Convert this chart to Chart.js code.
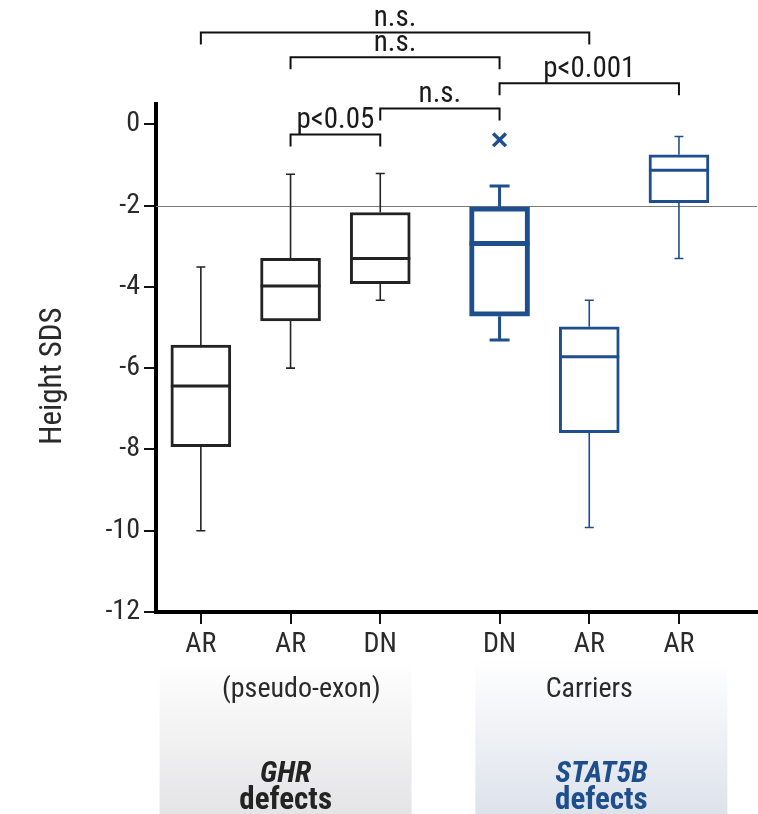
<!DOCTYPE html>
<html><head><meta charset="utf-8"><title>Height SDS</title>
<script src="https://cdn.jsdelivr.net/npm/chart.js@4.4.1/dist/chart.umd.min.js"></script>
<style>html,body{margin:0;padding:0;background:#fff;overflow:hidden}#wrap{position:relative;width:758px;height:814px}canvas{display:block}</style>
</head><body><div id="wrap"><canvas id="chart" width="758" height="814"></canvas></div>
<script>
// ---------------- data ----------------
const categories   = ['AR', 'AR', 'DN', 'DN', 'AR', 'AR'];
const defectGroups = ['GHR', 'GHR', 'GHR', 'STAT5B', 'STAT5B', 'STAT5B'];
const whiskerLow   = [-10.0, -6.0, -4.33, -5.31, -9.92, -3.30];
const quartile1    = [-7.93, -4.84, -3.92, -4.72, -7.59, -1.93];
const medians      = [-6.44, -3.98, -3.30, -2.93, -5.72, -1.13];
const quartile3    = [-5.43, -3.30, -2.17, -2.03, -4.98, -0.75];
const whiskerHigh  = [-3.51, -1.23, -1.21, -1.52, -4.33, -0.30];
const outlierValues = [null, null, null, -0.38, null, null];
const yTickValues  = [0, -2, -4, -6, -8, -10, -12];
const referenceValue = -2;
const comparisonPairs  = [[0, 4], [1, 3], [3, 5], [2, 3], [1, 2]];
const comparisonLabels = ['n.s.', 'n.s.', 'p<0.001', 'n.s.', 'p<0.05'];
const subLabels      = ['(pseudo-exon)', 'Carriers'];
const groupTitles    = ['GHR', 'STAT5B'];
const groupSubtitles = ['defects', 'defects'];

// ---------------- layout (axis units) ----------------
const X_POS = [1, 2, 3, 4.33, 5.33, 6.33];
const BRACKET_LEVELS = [2.26, 1.65, 1.01, 0.39, -0.25];
const SUBLABEL_X = [2.12, 5.33];
const GROUP_SPANS = [[0.54, 3.35], [4.06, 6.87]];

// ---------------- style ----------------
const INK = '#232323', BLUE = '#1f4e8d';
const boxColors = defectGroups.map(g => g === 'GHR' ? INK : BLUE);
const boxLine = [3, 3, 3, 5, 3, 3];
const whiskerLine = [1.6, 1.6, 1.6, 3, 1.6, 1.6];
const capHalf = [4.5, 4.5, 4.5, 10, 4.5, 4.5];
const groupColors = [INK, BLUE];
const groupShade = ['#e4e4e6', '#dde2eb'];

// font detection: prefer a condensed sans
function fontAvailable(name) {
  const c = document.createElement('canvas').getContext('2d');
  const s = 'AR DN Height SDS -12 pseudo-exon';
  for (const base of ['monospace', 'serif']) {
    c.font = '40px ' + base; const w0 = c.measureText(s).width;
    c.font = '40px "' + name + '", ' + base; const w1 = c.measureText(s).width;
    if (Math.abs(w0 - w1) > 0.5) return true;
  }
  return false;
}
let FAMILY = null, SQUEEZE = 1;
for (const f of ['Roboto Condensed', 'Liberation Sans Narrow', 'Noto Sans Condensed', 'Open Sans Condensed', 'DejaVu Sans Condensed']) {
  if (fontAvailable(f)) { FAMILY = '"' + f + '"'; break; }
}
if (!FAMILY) { FAMILY = '"Liberation Sans", Arial, sans-serif'; SQUEEZE = 0.84; }

function drawText(ctx, text, x, y, o) {
  ctx.save();
  ctx.translate(x, y);
  if (o.rotate) ctx.rotate(o.rotate);
  ctx.scale(SQUEEZE, 1);
  ctx.font = (o.style || 'normal') + ' ' + (o.weight || 'normal') + ' ' + o.size + 'px ' + FAMILY;
  ctx.fillStyle = o.color || INK;
  ctx.textAlign = o.align || 'center';
  ctx.textBaseline = o.baseline || 'alphabetic';
  ctx.fillText(text, 0, 0);
  ctx.restore();
}

const boxPlugin = {
  id: 'boxExtras',
  beforeDraw(chart) {
    const {ctx, scales: {x}} = chart;
    GROUP_SPANS.forEach((span, k) => {
      const x1 = x.getPixelForValue(span[0]), x2 = x.getPixelForValue(span[1]);
      const g = ctx.createLinearGradient(0, 660, 0, 814);
      g.addColorStop(0, 'rgba(255,255,255,1)');
      g.addColorStop(1, groupShade[k]);
      ctx.save(); ctx.fillStyle = g; ctx.fillRect(x1, 660, x2 - x1, 154); ctx.restore();
    });
  },
  beforeDatasetsDraw(chart) {
    const {ctx, chartArea, scales: {y}} = chart;
    const py = Math.round(y.getPixelForValue(referenceValue)) + 0.5;
    ctx.save();
    ctx.strokeStyle = '#7a7a7a'; ctx.lineWidth = 1.2;
    ctx.beginPath(); ctx.moveTo(chartArea.left, py); ctx.lineTo(chartArea.right, py); ctx.stroke();
    ctx.restore();
  },
  afterDatasetsDraw(chart) {
    const {ctx, scales: {x, y}} = chart;
    ctx.save();
    ctx.lineCap = 'butt';
    categories.forEach((c, i) => {
      const cx = x.getPixelForValue(X_POS[i]);
      const half = 30;
      ctx.strokeStyle = boxColors[i];
      ctx.lineWidth = whiskerLine[i];
      const yq3 = y.getPixelForValue(quartile3[i]), yq1 = y.getPixelForValue(quartile1[i]);
      const yh = y.getPixelForValue(whiskerHigh[i]), yl = y.getPixelForValue(whiskerLow[i]);
      ctx.beginPath();
      ctx.moveTo(cx, yq3); ctx.lineTo(cx, yh);
      ctx.moveTo(cx - capHalf[i], yh); ctx.lineTo(cx + capHalf[i], yh);
      ctx.moveTo(cx, yq1); ctx.lineTo(cx, yl);
      ctx.moveTo(cx - capHalf[i], yl); ctx.lineTo(cx + capHalf[i], yl);
      ctx.stroke();
      ctx.lineWidth = boxLine[i];
      const ym = y.getPixelForValue(medians[i]);
      ctx.beginPath(); ctx.moveTo(cx - half, ym); ctx.lineTo(cx + half, ym); ctx.stroke();
    });
    ctx.restore();
  },
  afterDraw(chart) {
    const {ctx, scales: {x, y}} = chart;
    ctx.save();
    ctx.strokeStyle = '#111'; ctx.lineWidth = 2; ctx.lineJoin = 'miter';
    comparisonPairs.forEach((p, k) => {
      const x1 = x.getPixelForValue(X_POS[p[0]]), x2 = x.getPixelForValue(X_POS[p[1]]);
      const yy = y.getPixelForValue(BRACKET_LEVELS[k]);
      ctx.beginPath();
      ctx.moveTo(x1, yy + 12); ctx.lineTo(x1, yy); ctx.lineTo(x2, yy); ctx.lineTo(x2, yy + 12);
      ctx.stroke();
      drawText(ctx, comparisonLabels[k], (x1 + x2) / 2, yy - 6, {size: 29, color: '#1a1a1a'});
    });
    ctx.restore();
    drawText(ctx, 'Height SDS', 61, 376, {size: 31, rotate: -Math.PI / 2, color: '#2a2a2a'});
    subLabels.forEach((t, k) => {
      drawText(ctx, t, x.getPixelForValue(SUBLABEL_X[k]), 697, {size: 28, color: '#2a2a2a'});
    });
    GROUP_SPANS.forEach((span, k) => {
      const cx = (x.getPixelForValue(span[0]) + x.getPixelForValue(span[1])) / 2;
      drawText(ctx, groupTitles[k], cx, 782, {size: 30, style: 'italic', weight: 'bold', color: groupColors[k]});
      drawText(ctx, groupSubtitles[k], cx, 809, {size: 31, weight: 'bold', color: groupColors[k]});
    });
  }
};

const tickFont = {family: FAMILY, size: 28};
new Chart(document.getElementById('chart'), {
  type: 'bar',
  data: {
    datasets: [{
      type: 'bar',
      label: 'Height SDS (IQR)',
      data: categories.map((c, i) => ({x: X_POS[i], y: [quartile1[i], quartile3[i]]})),
      backgroundColor: '#ffffff',
      borderColor: boxColors,
      borderWidth: boxLine,
      borderSkipped: false,
      barThickness: 60,
      grouped: false
    }, {
      type: 'scatter',
      label: 'Outlier',
      data: outlierValues.map((v, i) => v == null ? null : {x: X_POS[i], y: v}).filter(Boolean),
      pointStyle: 'crossRot',
      radius: 9,
      borderWidth: 3.5,
      borderColor: BLUE,
      backgroundColor: BLUE
    }]
  },
  options: {
    responsive: false,
    animation: false,
    devicePixelRatio: 1,
    layout: {autoPadding: false, padding: {top: 104, right: 1, left: 0, bottom: 0}},
    plugins: {legend: {display: false}, tooltip: {enabled: false}},
    scales: {
      x: {
        type: 'linear', min: 0.5, max: 7.2, offset: false,
        afterBuildTicks: s => { s.ticks = X_POS.map(v => ({value: v})); },
        afterFit: s => { s.height = 202; },
        ticks: {callback: (v, i) => categories[i], font: tickFont, color: '#2a2a2a', padding: 4, autoSkip: false, maxRotation: 0},
        grid: {display: true, drawOnChartArea: false, drawTicks: true, tickLength: 12, color: '#111', lineWidth: 2, offset: false},
        border: {display: true, color: '#000', width: 4}
      },
      y: {
        type: 'linear', min: -12, max: 0.5,
        afterBuildTicks: s => { s.ticks = yTickValues.map(v => ({value: v})); },
        afterFit: s => { s.width = 156; },
        ticks: {callback: v => String(v), font: tickFont, color: '#2a2a2a', padding: 4},
        grid: {display: true, drawOnChartArea: false, drawTicks: true, tickLength: 12, color: '#111', lineWidth: 2},
        border: {display: true, color: '#000', width: 4}
      }
    }
  },
  plugins: [boxPlugin]
});
</script>
</body></html>
